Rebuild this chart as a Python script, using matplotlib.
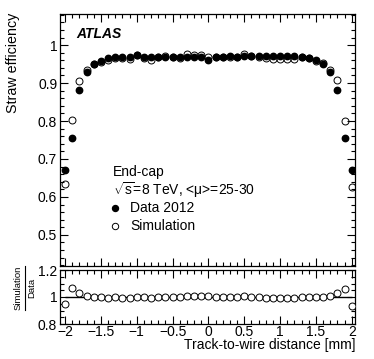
import numpy as np
import matplotlib
matplotlib.use("Agg")
import matplotlib.pyplot as plt
from matplotlib.ticker import MultipleLocator, FuncFormatter
from matplotlib.lines import Line2D

plt.rcParams['font.family'] = ['Liberation Sans', 'DejaVu Sans']
plt.rcParams['mathtext.fontset'] = 'custom'
plt.rcParams['mathtext.rm'] = 'Liberation Sans'
plt.rcParams['mathtext.it'] = 'Liberation Sans:italic'

# ---------------- data ----------------
distance = [-2.0, -1.9, -1.8, -1.7, -1.6, -1.5, -1.4, -1.3, -1.2, -1.1,
            -1.0, -0.9, -0.8, -0.7, -0.6, -0.5, -0.4, -0.3, -0.2, -0.1,
            0.0, 0.1, 0.2, 0.3, 0.4, 0.5, 0.6, 0.7, 0.8, 0.9,
            1.0, 1.1, 1.2, 1.3, 1.4, 1.5, 1.6, 1.7, 1.8, 1.9, 2.0]
data_eff = [0.670, 0.755, 0.881, 0.928, 0.949, 0.958, 0.965, 0.969, 0.969, 0.969,
            0.973, 0.969, 0.968, 0.970, 0.970, 0.970, 0.968, 0.970, 0.968, 0.968,
            0.962, 0.968, 0.970, 0.971, 0.970, 0.972, 0.972, 0.972, 0.972, 0.972,
            0.972, 0.972, 0.972, 0.970, 0.966, 0.960, 0.950, 0.928, 0.881, 0.755, 0.670]
sim_eff = [0.635, 0.803, 0.905, 0.935, 0.951, 0.956, 0.960, 0.966, 0.965, 0.963,
           0.974, 0.967, 0.960, 0.969, 0.972, 0.968, 0.966, 0.976, 0.975, 0.974,
           0.970, 0.968, 0.969, 0.970, 0.969, 0.976, 0.972, 0.970, 0.965, 0.963,
           0.963, 0.963, 0.963, 0.970, 0.965, 0.958, 0.952, 0.935, 0.907, 0.800, 0.626]

x = np.array(distance)
d = np.array(data_eff)
s = np.array(sim_eff)
ratio = s / d

W, H = 374, 359
fig = plt.figure(figsize=(W / 100, H / 100), dpi=100)

def fx(px):
    return px / W

def fy(py):
    return 1 - py / H

ax = fig.add_axes([fx(60), fy(266), fx(355) - fx(60), fy(14) - fy(266)])
axr = fig.add_axes([fx(60), fy(324), fx(355) - fx(60), fy(270) - fy(324)])

ms = 4.6
ax.plot(x, d, 'o', color='black', ms=ms, zorder=3)
ax.plot(x, s, 'o', mfc='none', mec='black', mew=0.7, ms=ms + 0.4, zorder=4)

ax.set_xlim(-2.07, 2.045)
ax.set_ylim(0.418, 1.082)
axr.set_xlim(-2.07, 2.045)
axr.set_ylim(0.8, 1.2)

axr.hlines(1.0, -2.0, 2.0, color='black', lw=1.0, zorder=2)
axr.plot(x, ratio, 'o', mfc='white', mec='black', mew=0.7, ms=ms + 0.4, zorder=4)

for a in (ax, axr):
    a.xaxis.set_major_locator(MultipleLocator(0.5))
    a.xaxis.set_minor_locator(MultipleLocator(0.1))
    a.tick_params(which='both', direction='in', top=True, right=True,
                  width=0.8, labelsize=10, pad=2)
    a.tick_params(which='major', length=6)
    a.tick_params(which='minor', length=3)
    for sp in a.spines.values():
        sp.set_linewidth(0.9)

axr.tick_params(axis='x', which='both', pad=0.5)
ax.yaxis.set_major_locator(MultipleLocator(0.1))
ax.yaxis.set_minor_locator(MultipleLocator(0.02))
ax.tick_params(labelbottom=False)
axr.yaxis.set_major_locator(MultipleLocator(0.2))
axr.yaxis.set_minor_locator(MultipleLocator(0.05))

def yfmt(v, pos):
    s_ = f"{v:.1f}"
    if s_.endswith(".0"):
        s_ = s_[:-2]
    return s_

def xfmt(v, pos):
    s_ = f"{v:g}"
    return s_.replace('-', '\u2212')

ax.yaxis.set_major_formatter(FuncFormatter(yfmt))
axr.yaxis.set_major_formatter(FuncFormatter(yfmt))
axr.xaxis.set_major_formatter(FuncFormatter(xfmt))

# labels
fig.text(fx(13), fy(13), 'Straw efficiency', rotation=90, ha='center', va='top',
         fontsize=10.3)
fig.text(fx(356), fy(345.5), 'Track-to-wire distance [mm]', ha='right', va='center',
         fontsize=10)

rsize = 6.8
fig.text(fx(18.5), fy(288), 'Simulation', rotation=90, ha='center', va='center',
         fontsize=rsize)
fig.text(fx(31.5), fy(288), 'Data', rotation=90, ha='center', va='center',
         fontsize=rsize)
fig.add_artist(Line2D([fx(25.5), fx(25.5)], [fy(266), fy(310)], color='black',
                      lw=0.8, transform=fig.transFigure))

# ATLAS and legend text
fig.text(fx(76), fy(34), 'ATLAS', fontsize=10, fontweight='bold', fontstyle='italic',
         ha='left', va='center')
fig.text(fx(113), fy(172), 'End-cap', fontsize=10, ha='left', va='center')
fig.text(fx(113), fy(190), r'$\sqrt{\mathrm{s}}$=8 TeV, <μ>=25-30', fontsize=10,
         ha='left', va='center')
fig.text(fx(130), fy(208), 'Data 2012', fontsize=10, ha='left', va='center')
fig.text(fx(130), fy(226), 'Simulation', fontsize=10, ha='left', va='center')
fig.add_artist(Line2D([fx(115)], [fy(208)], marker='o', color='black', ms=4.3,
                      transform=fig.transFigure))
fig.add_artist(Line2D([fx(115)], [fy(226)], marker='o', mfc='none', mec='black',
                      mew=0.7, ms=4.6, transform=fig.transFigure))

fig.savefig('out.png', dpi=100)
